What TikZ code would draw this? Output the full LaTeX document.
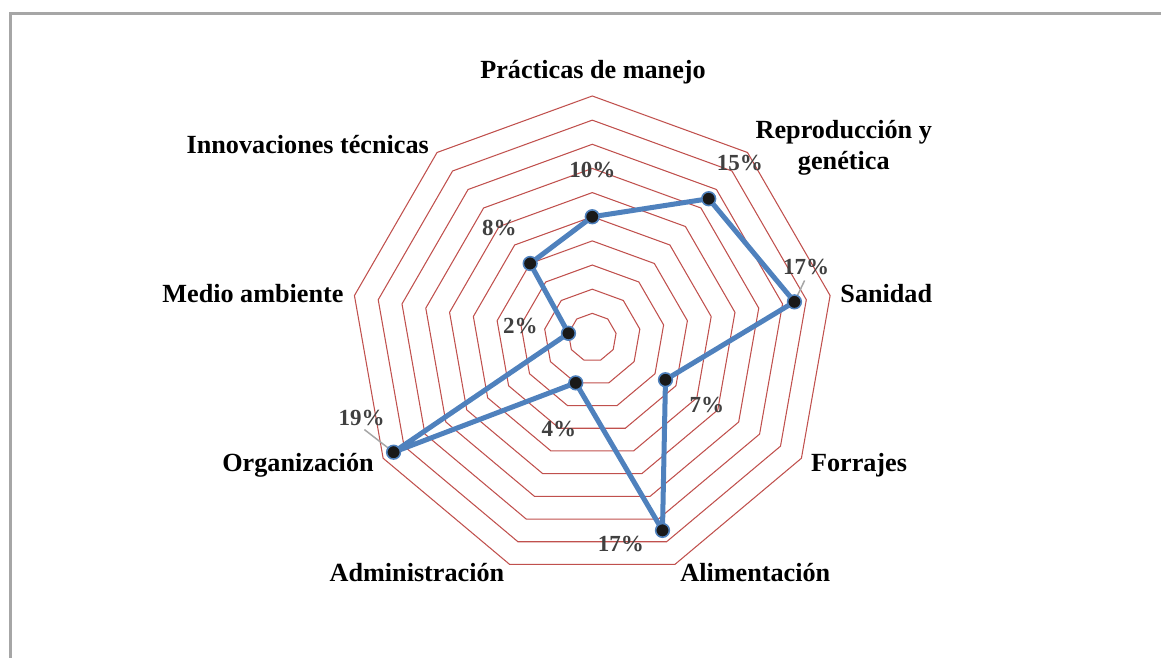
\documentclass[tikz,border=0pt]{standalone}
\usepackage{fontspec}
\setmainfont{Liberation Serif}
\definecolor{rojoanillo}{HTML}{C0504D}
\definecolor{azulserie}{HTML}{4F81BD}
\definecolor{grisdato}{HTML}{404040}
\definecolor{grismarco}{HTML}{A6A6A6}
\begin{document}
\begin{tikzpicture}[x=0.2415cm, y=0.2415cm,
  anillo/.style={draw=rojoanillo, line width=0.6pt, line join=miter},
  serie/.style={draw=azulserie, line width=2.85pt, line join=round},
  punto/.style={draw=azulserie, fill=black!90, line width=0.9pt},
  guia/.style={draw=grismarco, line width=0.85pt},
  marco/.style={draw=grismarco, line width=1.7pt},
  categoria/.style={font=\fontsize{14.9}{17.6}\selectfont\bfseries, text=black, inner sep=1pt, anchor=base},
  dato/.style={font=\fontsize{13.1}{15}\selectfont\bfseries, text=grisdato, inner sep=1pt, anchor=base}]
\useasboundingbox (-49.05,-26.54) rectangle (47.10,27.95);

\draw[marco] (-48.17,-26.54) -- (-48.17,26.82) -- (47.10,26.82);

\coordinate (PM) at (90:10);
\coordinate (RG) at (50:15);
\coordinate (SA) at (10:17);
\coordinate (FO) at (-30:7);
\coordinate (AL) at (-70:17);
\coordinate (AD) at (-110:4);
\coordinate (OR) at (-150:19);
\coordinate (MA) at (170:2);
\coordinate (IT) at (130:8);

% anillos cada 2%
\draw[anillo] (90:2) -- (50:2) -- (10:2) -- (-30:2) -- (-70:2) -- (-110:2) -- (-150:2) -- (170:2) -- (130:2) -- cycle;
\draw[anillo] (90:4) -- (50:4) -- (10:4) -- (-30:4) -- (-70:4) -- (-110:4) -- (-150:4) -- (170:4) -- (130:4) -- cycle;
\draw[anillo] (90:6) -- (50:6) -- (10:6) -- (-30:6) -- (-70:6) -- (-110:6) -- (-150:6) -- (170:6) -- (130:6) -- cycle;
\draw[anillo] (90:8) -- (50:8) -- (10:8) -- (-30:8) -- (-70:8) -- (-110:8) -- (-150:8) -- (170:8) -- (130:8) -- cycle;
\draw[anillo] (90:10) -- (50:10) -- (10:10) -- (-30:10) -- (-70:10) -- (-110:10) -- (-150:10) -- (170:10) -- (130:10) -- cycle;
\draw[anillo] (90:12) -- (50:12) -- (10:12) -- (-30:12) -- (-70:12) -- (-110:12) -- (-150:12) -- (170:12) -- (130:12) -- cycle;
\draw[anillo] (90:14) -- (50:14) -- (10:14) -- (-30:14) -- (-70:14) -- (-110:14) -- (-150:14) -- (170:14) -- (130:14) -- cycle;
\draw[anillo] (90:16) -- (50:16) -- (10:16) -- (-30:16) -- (-70:16) -- (-110:16) -- (-150:16) -- (170:16) -- (130:16) -- cycle;
\draw[anillo] (90:18) -- (50:18) -- (10:18) -- (-30:18) -- (-70:18) -- (-110:18) -- (-150:18) -- (170:18) -- (130:18) -- cycle;
\draw[anillo] (90:20) -- (50:20) -- (10:20) -- (-30:20) -- (-70:20) -- (-110:20) -- (-150:20) -- (170:20) -- (130:20) -- cycle;

\draw[serie] (PM) -- (RG) -- (SA) -- (FO) -- (AL) -- (AD) -- (OR) -- (MA) -- (IT) -- cycle;

% etiquetas de datos
\node[dato] (datPM) at (0,13.23) {10\%};
\node[dato] (datRG) at (12.23,13.81) {15\%};
\node[dato] (datSA) at (17.71,5.18) {17\%};
\node[dato] (datFO) at (9.50,-6.23) {7\%};
\node[dato] (datAL) at (2.36,-17.74) {17\%};
\node[dato] (datAD) at (-2.76,-8.22) {4\%};
\node[dato] (datOR) at (-19.10,-7.25) {19\%};
\node[dato] (datMA) at (-5.95,0.35) {2\%};
\node[dato] (datIT) at (-7.69,8.41) {8\%};

\draw[guia, shorten <=2pt] (datSA.south) -- (SA);
\draw[guia, shorten <=2pt] (datOR.south) -- (OR);

\draw[punto] (PM) circle[radius=3.9pt];
\draw[punto] (RG) circle[radius=3.9pt];
\draw[punto] (SA) circle[radius=3.9pt];
\draw[punto] (FO) circle[radius=3.9pt];
\draw[punto] (AL) circle[radius=3.9pt];
\draw[punto] (AD) circle[radius=3.9pt];
\draw[punto] (OR) circle[radius=3.9pt];
\draw[punto] (MA) circle[radius=3.9pt];
\draw[punto] (IT) circle[radius=3.9pt];

% categorias
\node[categoria] (catPM) at (0.06,21.41) {Prácticas de manejo};
\node[categoria, align=center] (catRG) at (20.83,13.93) {Reproducción y\\genética};
\node[categoria] (catSA) at (24.35,2.88) {Sanidad};
\node[categoria] (catFO) at (22.09,-11.11) {Forrajes};
\node[categoria] (catAL) at (13.50,-20.17) {Alimentación};
\node[categoria] (catAD) at (-14.52,-20.22) {Administración};
\node[categoria] (catOR) at (-24.37,-11.11) {Organización};
\node[categoria] (catMA) at (-28.10,2.88) {Medio ambiente};
\node[categoria] (catIT) at (-23.56,15.25) {Innovaciones técnicas};
\end{tikzpicture}
\end{document}
